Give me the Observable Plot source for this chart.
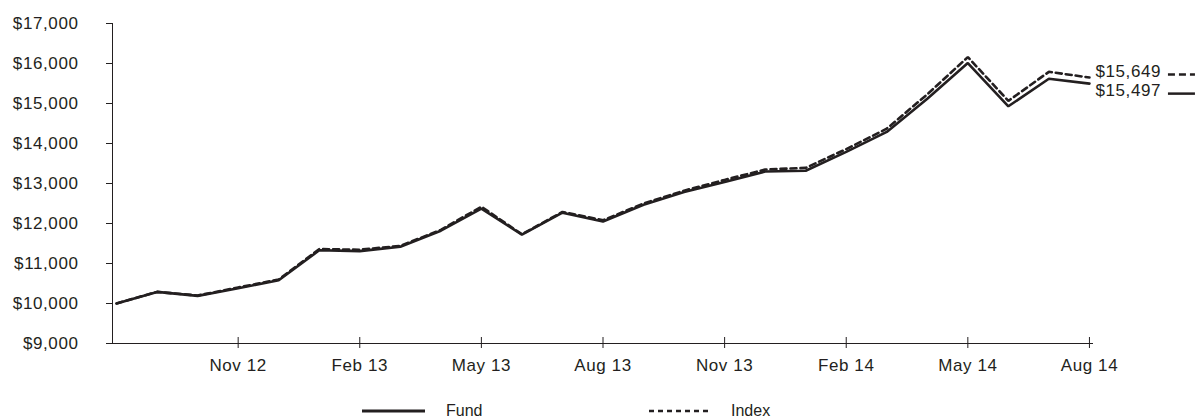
<!DOCTYPE html>
<html>
<head>
<meta charset="utf-8">
<script src="https://cdn.jsdelivr.net/npm/d3@7"></script>
<script src="https://cdn.jsdelivr.net/npm/@observablehq/plot@0.6"></script>
<style>
  html, body { margin: 0; padding: 0; background: #fff; }
  #chart { position: relative; width: 1197px; height: 420px; font-family: "Liberation Sans", Arial, sans-serif; color: #231f20; }
  #legend { position: absolute; left: 0; top: 398px; width: 1197px; height: 26px; font-size: 16px; }
  .item { position: absolute; top: 0; height: 26px; display: flex; align-items: center; }
  .item svg { display: block; }
</style>
</head>
<body>
<div id="chart"></div>
<script>
// Month labels, one per monthly observation (Aug 2012 – Aug 2014)
const months = [
  "Aug 12", "Sep 12", "Oct 12", "Nov 12", "Dec 12",
  "Jan 13", "Feb 13", "Mar 13", "Apr 13", "May 13", "Jun 13", "Jul 13", "Aug 13",
  "Sep 13", "Oct 13", "Nov 13", "Dec 13",
  "Jan 14", "Feb 14", "Mar 14", "Apr 14", "May 14", "Jun 14", "Jul 14", "Aug 14"
];

// Growth of a $10,000 investment
const fundValues = [
  10000, 10290, 10190, 10380, 10580,
  11330, 11310, 11420, 11820, 12370, 11720, 12270, 12050,
  12470, 12790, 13040, 13300,
  13320, 13790, 14290, 15120, 16010, 14930, 15620, 15497
];
const indexValues = [
  10000, 10290, 10200, 10400, 10600,
  11360, 11345, 11440, 11840, 12420, 11730, 12290, 12080,
  12500, 12820, 13090, 13350,
  13390, 13860, 14370, 15230, 16160, 15065, 15792, 15649
];

// Axis ticks
const xTickIdx = [3, 6, 9, 12, 15, 18, 21, 24];
const yTicks = [9000, 10000, 11000, 12000, 13000, 14000, 15000, 16000, 17000];

const ink = "#231f20";
const money = d => "$" + d3.format(",")(d);

const fundRows = months.map((m, i) => ({ i, v: fundValues[i] }));
const indexRows = months.map((m, i) => ({ i, v: indexValues[i] }));
const last = months.length - 1;

const plot = Plot.plot({
  width: 1197,
  height: 400,
  marginLeft: 112,
  marginRight: 104,
  marginTop: 23,
  marginBottom: 57,
  style: {
    fontFamily: "'Liberation Sans', Arial, sans-serif",
    fontSize: "17px",
    color: ink,
    background: "#fff",
    letterSpacing: "0.6px"
  },
  x: { type: "linear", domain: [-0.1, last + 0.1] },
  y: { domain: [9000, 17000] },
  marks: [
    // axes
    Plot.axisY({ ticks: yTicks, tickSize: 6, tickPadding: 28, tickFormat: money, label: null, stroke: ink, fill: ink }),
    Plot.axisX({ ticks: xTickIdx, tickSize: 11, dy: -6, tickPadding: 10, tickFormat: i => months[i], label: null, stroke: ink, fill: ink }),
    Plot.ruleX([-0.1], { y1: 9000, y2: 17000, stroke: ink }),
    Plot.ruleY([9000], { stroke: ink }),

    // series
    Plot.line(indexRows, { x: "i", y: "v", stroke: ink, strokeWidth: 2.6, strokeDasharray: "6,4", strokeLinejoin: "miter" }),
    Plot.line(fundRows, { x: "i", y: "v", stroke: ink, strokeWidth: 2.6, strokeLinejoin: "miter" }),

    // end-of-period values
    Plot.text([indexRows[last]], { x: "i", y: "v", text: d => money(d.v), dx: 6, dy: -6, textAnchor: "start", fill: ink, fontSize: 17 }),
    Plot.text([fundRows[last]], { x: "i", y: "v", text: d => money(d.v), dx: 6, dy: 7, textAnchor: "start", fill: ink, fontSize: 17 }),
    Plot.ruleY([indexRows[last]], { y: "v", x1: last, x2: last, insetLeft: 79, insetRight: -106, dy: -3, stroke: ink, strokeWidth: 2.5, strokeDasharray: "7,4" }),
    Plot.ruleY([fundRows[last]], { y: "v", x1: last, x2: last, insetLeft: 79, insetRight: -106, dy: 10, stroke: ink, strokeWidth: 2.5 })
  ]
});

const chart = document.getElementById("chart");
chart.appendChild(plot);

// legend below the plot
const legend = document.createElement("div");
legend.id = "legend";
legend.innerHTML = `
  <div class="item" style="left:362px">
    <svg width="63" height="6"><line x1="0" x2="63" y1="3" y2="3" stroke="${ink}" stroke-width="3"/></svg>
  </div>
  <div class="item" style="left:446px">Fund</div>
  <div class="item" style="left:649px">
    <svg width="62" height="6"><line x1="0" x2="62" y1="3" y2="3" stroke="${ink}" stroke-width="2.5" stroke-dasharray="5,4"/></svg>
  </div>
  <div class="item" style="left:731px">Index</div>
`;
chart.appendChild(legend);
</script>
</body>
</html>
